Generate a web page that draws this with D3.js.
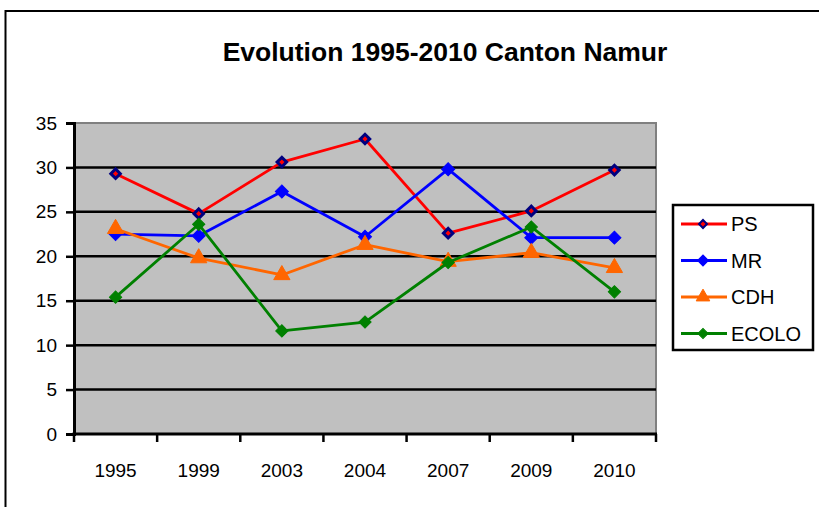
<!DOCTYPE html>
<html>
<head>
<meta charset="utf-8">
<script src="https://cdn.jsdelivr.net/npm/d3@7"></script>
<style>
  body { margin: 0; background: #fff; }
  svg { display: block; font-family: "Liberation Sans", Arial, sans-serif; }
</style>
</head>
<body>
<svg id="chart" width="819" height="507"></svg>
<script>
// data
var years = ["1995", "1999", "2003", "2004", "2007", "2009", "2010"];
var ps    = [29.3, 24.8, 30.6, 33.2, 22.6, 25.1, 29.7];
var mr    = [22.5, 22.3, 27.3, 22.2, 29.8, 22.1, 22.1];
var cdh   = [23.1, 19.8, 17.9, 21.3, 19.4, 20.4, 18.7];
var ecolo = [15.4, 23.6, 11.6, 12.6, 19.3, 23.3, 16.0];
var yTicks = [0, 5, 10, 15, 20, 25, 30, 35];

var series = [
  { name: "PS",    values: ps,    color: "#FF0000", marker: "diamond",  fill: "#FF0000", stroke: "#000080", size: 45, sw: 3 },
  { name: "MR",    values: mr,    color: "#0000FF", marker: "diamond",  fill: "#0000FF", stroke: "#0000FF", size: 85, sw: 1 },
  { name: "CDH",   values: cdh,   color: "#FF6600", marker: "triangle", fill: "#FF6600", stroke: "#FF6600", size: 115, sw: 1 },
  { name: "ECOLO", values: ecolo, color: "#008000", marker: "diamond",  fill: "#008000", stroke: "#008000", size: 75, sw: 1 }
];

var svg = d3.select("#chart");
var margin = { top: 123, left: 74, right: 163, bottom: 73 };
var W = 819, H = 507;

// outer chart frame
svg.append("rect")
  .attr("x", 5.5).attr("y", 11)
  .attr("width", W).attr("height", H)
  .style("fill", "#fff")
  .style("stroke", "#000")
  .style("stroke-width", 2);

svg.append("text")
  .attr("x", 445).attr("y", 61)
  .attr("text-anchor", "middle")
  .style("font-size", "26.5px")
  .style("font-weight", "bold")
  .text("Evolution 1995-2010 Canton Namur");

var x = d3.scaleBand().domain(years).range([margin.left, W - margin.right]).padding(0);
var y = d3.scaleLinear().domain([0, 35]).range([H - margin.bottom, margin.top]);

// plot area
svg.append("rect")
  .attr("x", x.range()[0]).attr("y", y(35))
  .attr("width", x.range()[1] - x.range()[0])
  .attr("height", y(0) - y(35))
  .style("fill", "#C0C0C0")
  .style("stroke", "#808080")
  .style("stroke-width", 2);

// gridlines
svg.selectAll(".grid").data(yTicks.filter(function(d) { return d > 0 && d < 35; }))
  .enter().append("line")
  .attr("class", "grid")
  .attr("x1", x.range()[0]).attr("x2", x.range()[1])
  .attr("y1", function(d) { return y(d); })
  .attr("y2", function(d) { return y(d); })
  .style("stroke", "#000")
  .style("stroke-width", 2.5);

// y axis
var yAxis = svg.append("g")
  .attr("transform", "translate(" + margin.left + ",0)")
  .call(d3.axisLeft(y).tickValues(yTicks).tickSize(8).tickPadding(9));
yAxis.select(".domain").style("stroke", "#000").style("stroke-width", 3);
yAxis.selectAll(".tick line").style("stroke", "#000").style("stroke-width", 2.5);
yAxis.selectAll(".tick text")
  .style("font-size", "19px")
  .style("font-family", "Liberation Sans, Arial, sans-serif")
  .style("fill", "#000");

// x axis: line + boundary ticks
var xg = svg.append("g");
xg.append("line")
  .attr("x1", x.range()[0] - 1.5).attr("x2", x.range()[1] + 1)
  .attr("y1", y(0)).attr("y2", y(0))
  .style("stroke", "#000").style("stroke-width", 3);
var bounds = years.map(function(d) { return x(d); }).concat([x.range()[1]]);
xg.selectAll(".xt").data(bounds).enter().append("line")
  .attr("x1", function(d) { return d; }).attr("x2", function(d) { return d; })
  .attr("y1", y(0)).attr("y2", y(0) + 8)
  .style("stroke", "#000").style("stroke-width", 2.5);
xg.selectAll(".xl").data(years).enter().append("text")
  .attr("x", function(d) { return x(d) + x.bandwidth() / 2; })
  .attr("y", y(0) + 43)
  .attr("text-anchor", "middle")
  .style("font-size", "19px")
  .text(function(d) { return d; });

function markerPath(s, k) {
  if (s.marker == "triangle") return d3.symbol().type(d3.symbolTriangle).size(s.size * k)();
  return d3.symbol().type(d3.symbolSquare).size(s.size * k)();
}
function markerRot(s) { return s.marker == "triangle" ? "" : " rotate(45)"; }

var line = d3.line()
  .x(function(d, i) { return x(years[i]) + x.bandwidth() / 2; })
  .y(function(d) { return y(d); });

series.forEach(function(s) {
  var g = svg.append("g");
  g.append("path")
    .attr("d", line(s.values))
    .style("fill", "none")
    .style("stroke", s.color)
    .style("stroke-width", 2.8)
    .style("stroke-linejoin", "round");
  g.selectAll("path.m").data(s.values).enter().append("path")
    .attr("class", "m")
    .attr("d", markerPath(s, 1))
    .attr("transform", function(d, i) {
      return "translate(" + (x(years[i]) + x.bandwidth() / 2) + "," + y(d) + ")" + markerRot(s);
    })
    .style("fill", s.fill)
    .style("stroke", s.stroke)
    .style("stroke-width", s.sw);
});

// legend
var lg = svg.append("g");
lg.append("rect")
  .attr("x", 673).attr("y", 205).attr("width", 140).attr("height", 145)
  .style("fill", "#fff").style("stroke", "#000").style("stroke-width", 2.5);
series.forEach(function(s, i) {
  var ly = 224 + i * 36.5;
  lg.append("line")
    .attr("x1", 681).attr("x2", 727).attr("y1", ly).attr("y2", ly)
    .style("stroke", s.color).style("stroke-width", 3);
  lg.append("path")
    .attr("d", markerPath(s, 0.7))
    .attr("transform", "translate(703," + ly + ")" + markerRot(s))
    .style("fill", s.fill).style("stroke", s.stroke)
    .style("stroke-width", s.name == "PS" ? 2 : 1);
  lg.append("text")
    .attr("x", 731).attr("y", ly + 7)
    .style("font-size", "20px")
    .text(s.name);
});
</script>
</body>
</html>
